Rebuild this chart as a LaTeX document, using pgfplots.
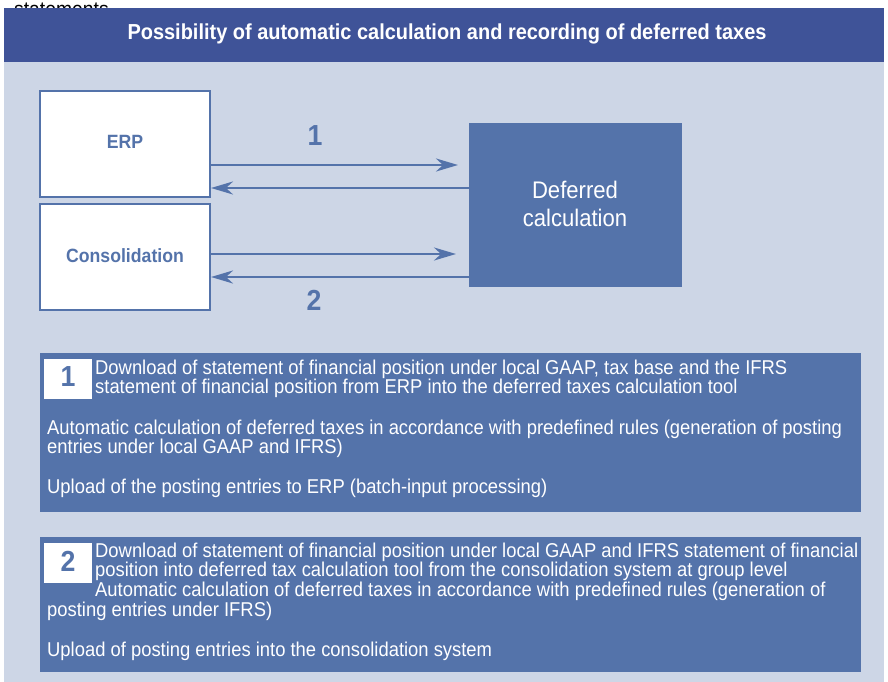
\documentclass[border=0pt]{standalone}
\usepackage{fontspec}
\setmainfont{Liberation Sans}[FakeStretch=0.92]
\usepackage{pgfplots}
\pgfplotsset{compat=1.18}
\usetikzlibrary{arrows.meta}
\definecolor{dark}{RGB}{63,83,152}
\definecolor{mid}{RGB}{84,115,170}
\definecolor{light}{RGB}{205,214,230}
\begin{document}
\begin{tikzpicture}
\begin{axis}[width=888pt,height=682pt,scale only axis,xmin=0,xmax=888,ymin=0,ymax=682,y dir=reverse,hide axis,clip=false]
\path (axis cs:0,682) coordinate (A) (axis cs:888,0) coordinate (B);
% cut-off text at top
\node[anchor=base west,font=\fontsize{21}{21}\selectfont,inner sep=0pt] at (axis cs:14,17) {statements};
% title bar and background
\addplot[fill=dark,draw=none] coordinates {(4,8)(884,8)(884,62)(4,62)} --cycle;
\addplot[fill=light,draw=none] coordinates {(4,62)(884,62)(884,682)(4,682)} --cycle;
\node[text=white,font=\fontsize{21.7}{22}\selectfont\bfseries] at (axis cs:447,34) {Possibility of automatic calculation and recording of deferred taxes};
% system boxes
\addplot[fill=white,draw=mid,line width=2pt] coordinates {(40,91)(210,91)(210,197)(40,197)} --cycle;
\addplot[fill=white,draw=mid,line width=2pt] coordinates {(40,204)(210,204)(210,310)(40,310)} --cycle;
\addplot[fill=mid,draw=none] coordinates {(469,123)(682,123)(682,287)(469,287)} --cycle;
\node[text=mid,font=\fontsize{19.2}{20}\selectfont\bfseries] at (axis cs:125,142) {ERP};
\node[text=mid,font=\fontsize{19.2}{20}\selectfont\bfseries] at (axis cs:125,256) {Consolidation};
\node[text=white,font=\fontsize{24}{28}\selectfont,align=center] at (axis cs:575,204) {Deferred\\calculation};
% arrows
\addplot[mid,line width=2.5pt,-{Stealth[length=22pt,width=13pt,inset=7pt]}] coordinates {(211,165)(458,165)};
\addplot[mid,line width=2.5pt,-{Stealth[length=22pt,width=13pt,inset=7pt]}] coordinates {(469,188)(211,188)};
\addplot[mid,line width=2.5pt,-{Stealth[length=22pt,width=13pt,inset=7pt]}] coordinates {(211,254)(456,254)};
\addplot[mid,line width=2.5pt,-{Stealth[length=22pt,width=13pt,inset=7pt]}] coordinates {(469,277)(211,277)};
\node[text=mid,font=\fontsize{29}{30}\selectfont\bfseries] at (axis cs:315,136) {1};
\node[text=mid,font=\fontsize{29}{30}\selectfont\bfseries] at (axis cs:314,300) {2};
% text box 1
\addplot[fill=mid,draw=none] coordinates {(40,353)(861,353)(861,512)(40,512)} --cycle;
\addplot[fill=white,draw=none] coordinates {(44,359)(92,359)(92,399)(44,399)} --cycle;
\node[text=mid,font=\fontsize{29}{30}\selectfont\bfseries] at (axis cs:68,377) {1};
\begin{scope}[every node/.style={text=white,font=\fontsize{20}{20}\selectfont,anchor=west,inner sep=0pt}]
\node at (axis cs:95,369) {Download of statement of financial position under local GAAP, tax base and the IFRS};
\node at (axis cs:95,388) {statement of financial position from ERP into the deferred taxes calculation tool};
\node at (axis cs:47,429) {Automatic calculation of deferred taxes in accordance with predefined rules (generation of posting};
\node at (axis cs:47,448) {entries under local GAAP and IFRS)};
\node at (axis cs:47,488) {Upload of the posting entries to ERP (batch-input processing)};
\end{scope}
% text box 2
\addplot[fill=mid,draw=none] coordinates {(40,537)(861,537)(861,672)(40,672)} --cycle;
\addplot[fill=white,draw=none] coordinates {(44,543)(92,543)(92,583)(44,583)} --cycle;
\node[text=mid,font=\fontsize{29}{30}\selectfont\bfseries] at (axis cs:68,561) {2};
\begin{scope}[every node/.style={text=white,font=\fontsize{20}{20}\selectfont,anchor=west,inner sep=0pt}]
\node at (axis cs:95,552) {Download of statement of financial position under local GAAP and IFRS statement of financial};
\node at (axis cs:95,571) {position into deferred tax calculation tool from the consolidation system at group level};
\node at (axis cs:95,591) {Automatic calculation of deferred taxes in accordance with predefined rules (generation of};
\node at (axis cs:47,611) {posting entries under IFRS)};
\node at (axis cs:47,651) {Upload of posting entries into the consolidation system};
\end{scope}
\end{axis}
\pgfresetboundingbox
\useasboundingbox (A) rectangle (B);
\end{tikzpicture}
\end{document}
